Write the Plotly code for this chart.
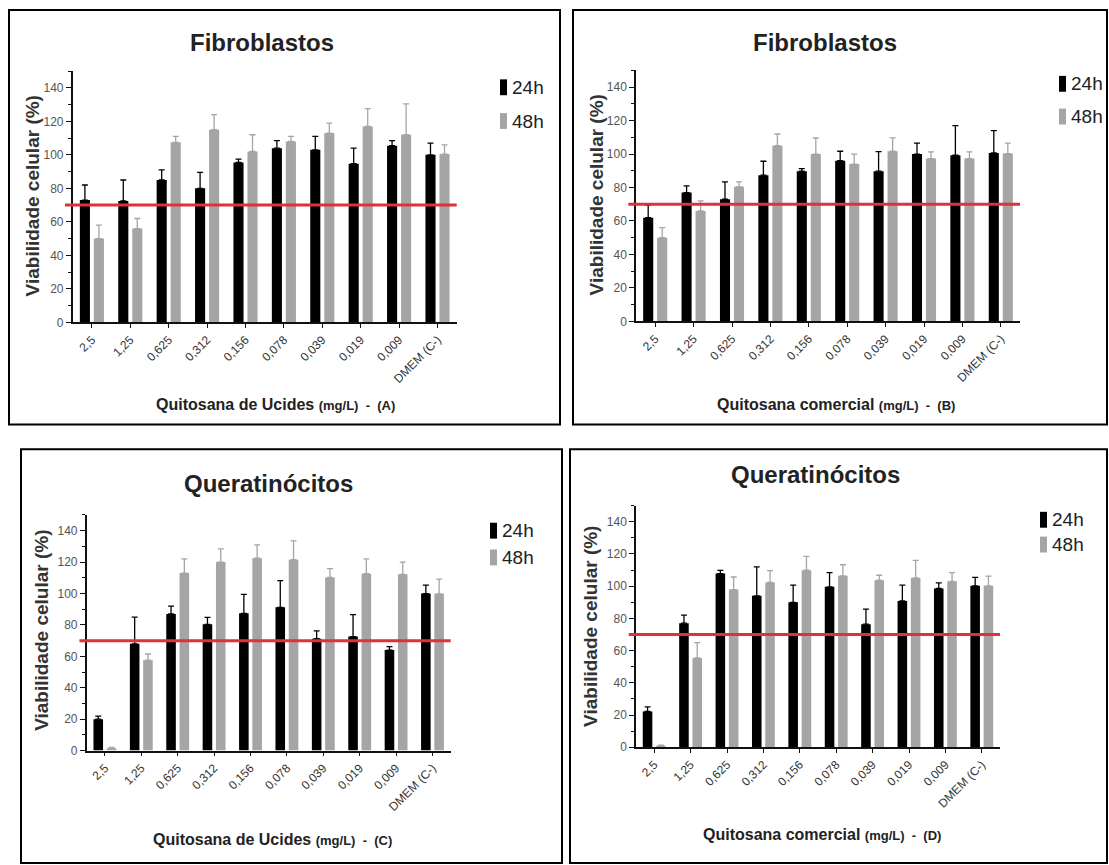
import plotly.graph_objects as go

W, H = 1109, 865

# Concentrations (mg/L) on the x axis
categories = ["2,5", "1,25", "0,625", "0,312", "0,156", "0,078", "0,039", "0,019", "0,009", "DMEM (C-)"]

# (A) Fibroblastos - Quitosana de Ucides
a_24h = [73, 72.5, 85, 80, 95.5, 104, 103, 94.7, 105.5, 100]
a_24h_err = [9, 12.5, 6, 9.5, 2, 4.5, 8, 9.3, 3, 7]
a_48h = [50, 56, 107.5, 115, 102, 108, 113, 117, 112, 100.5]
a_48h_err = [8, 6, 3.5, 9, 10, 3, 6, 10.6, 18.5, 5.5]

# (B) Fibroblastos - Quitosana comercial
b_24h = [62, 77, 73, 87.4, 89.8, 96, 89.8, 100, 99.3, 100.7]
b_24h_err = [7.5, 4, 10.4, 8.3, 1.5, 5.7, 11.7, 6.6, 17.7, 13.3]
b_48h = [50, 66, 80.4, 105, 100, 94, 101.7, 97.3, 97.3, 100.3]
b_48h_err = [6, 6, 3, 7, 9.6, 6, 8, 4, 4, 6.3]

# (C) Queratinócitos - Quitosana de Ucides
c_24h = [20, 68, 87, 80.4, 87.4, 91.2, 71.2, 72.6, 64, 100]
c_24h_err = [2, 17, 5, 4.4, 12, 17, 5, 14, 2.2, 5.3]
c_48h = [1.5, 57.5, 113, 120, 122.5, 121.5, 110.2, 112.6, 112.2, 99.8]
c_48h_err = [0.5, 4, 9, 8.4, 8.5, 12, 5.6, 9.4, 7.8, 9.4]

# (D) Queratinócitos - Quitosana comercial
d_24h = [22.2, 77, 107.8, 94, 90, 99.6, 76.4, 90.8, 98.6, 100.2]
d_24h_err = [2.8, 5, 2, 18, 10.6, 8.8, 9.4, 9.8, 3.4, 5.3]
d_48h = [0.8, 55.4, 97.9, 102.3, 109.9, 106.4, 103.7, 105.1, 103, 100.2]
d_48h_err = [0.5, 9.6, 7.8, 7.4, 8.6, 6.9, 3.1, 10.9, 5.4, 6]

viability_limit = 70
series_names = ["24h", "48h"]
y_ticks = [0, 20, 40, 60, 80, 100, 120, 140]

BLACK = "#000000"
GRAY = "#a5a5a5"
RED = "#e0313b"
FONT = "Arial, Liberation Sans, sans-serif"


def fx(px):
    return px / W


def fy(py):
    return 1 - py / H


panels = [
    dict(data=(a_24h, a_24h_err, a_48h, a_48h_err), x=(72.7, 456.7), y=(71.7, 325),
         title="Fibroblastos", tpos=(262, 43), ylab=(32, 198),
         xt="Quitosana de Ucides", tag="(A)", xtpos=(275, 408),
         frame=(9, 10, 560, 428), leg=(500, 88, 122)),
    dict(data=(b_24h, b_24h_err, b_48h, b_48h_err), x=(636, 1020), y=(71, 324),
         title="Fibroblastos", tpos=(825, 43), ylab=(596, 197),
         xt="Quitosana comercial", tag="(B)", xtpos=(836, 408),
         frame=(573, 10, 1107, 428), leg=(1059, 84.5, 117.5)),
    dict(data=(c_24h, c_24h_err, c_48h, c_48h_err), x=(86.7, 450.7), y=(519.2, 756.7),
         title="Queratinócitos", tpos=(268, 487), ylab=(42, 636),
         xt="Quitosana de Ucides", tag="(C)", xtpos=(272, 846),
         frame=(21, 453, 562, 870), leg=(490, 535, 562)),
    dict(data=(d_24h, d_24h_err, d_48h, d_48h_err), x=(636, 1000), y=(509.8, 753.3),
         title="Queratinócitos", tpos=(815, 478), ylab=(591, 632),
         xt="Quitosana comercial", tag="(D)", xtpos=(822, 841),
         frame=(570, 453, 1107, 870), leg=(1040, 524, 549)),
]

fig = go.Figure()
shapes = []
annotations = []
layout_axes = {}

for i, p in enumerate(panels, start=1):
    xa = "x" if i == 1 else f"x{i}"
    ya = "y" if i == 1 else f"y{i}"
    v24, e24, v48, e48 = p["data"]
    for vals, errs, color, name in ((v24, e24, BLACK, series_names[0]),
                                     (v48, e48, GRAY, series_names[1])):
        fig.add_trace(go.Bar(
            x=categories, y=vals, name=name, xaxis=xa, yaxis=ya,
            marker=dict(color=color, line=dict(width=0)),
            error_y=dict(type="data", symmetric=False, array=errs,
                         arrayminus=[0] * len(errs), color=color,
                         thickness=1.3, width=3),
            showlegend=False,
        ))

    xkey = "xaxis" if i == 1 else f"xaxis{i}"
    ykey = "yaxis" if i == 1 else f"yaxis{i}"
    layout_axes[xkey] = dict(
        domain=[fx(p["x"][0]), fx(p["x"][1])], anchor=ya,
        type="category", categoryorder="array", categoryarray=categories,
        range=[-0.5, len(categories) - 0.5],
        showline=True, linecolor="#111", linewidth=1.5,
        ticks="outside", ticklen=4, tickwidth=1, tickcolor="#111",
        tickangle=-45, tickfont=dict(family=FONT, size=12, color="#333"),
        showgrid=False, zeroline=False, fixedrange=True,
    )
    layout_axes[ykey] = dict(
        domain=[fy(p["y"][1]), fy(p["y"][0])], anchor=xa,
        range=[0, 150], tickmode="array", tickvals=y_ticks,
        showline=True, linecolor="#111", linewidth=1.5,
        ticks="outside", ticklen=5, tickwidth=1, tickcolor="#111",
        minor=dict(tickmode="array", tickvals=[10, 30, 50, 70, 90, 110, 130, 150],
                   ticks="outside", ticklen=3, tickcolor="#111"),
        tickfont=dict(family=FONT, size=12, color="#555"),
        showgrid=False, zeroline=False, fixedrange=True,
    )

    # threshold line at 70 % viability
    shapes.append(dict(type="line", xref=f"{xa} domain", yref=ya,
                       x0=-0.02, x1=1.0, y0=viability_limit, y1=viability_limit,
                       line=dict(color=RED, width=3), layer="above"))

    # panel frame
    x0, y0, x1, y1 = p["frame"]
    shapes.append(dict(type="rect", xref="paper", yref="paper",
                       x0=fx(x0), x1=fx(x1), y0=fy(y1), y1=fy(y0),
                       line=dict(color="#000", width=2)))

    # panel title
    annotations.append(dict(text=f"<b>{p['title']}</b>", xref="paper", yref="paper",
                            x=fx(p["tpos"][0]), y=fy(p["tpos"][1]),
                            xanchor="center", yanchor="middle", showarrow=False,
                            font=dict(family=FONT, size=24, color="#222")))
    # y axis title
    annotations.append(dict(text="<b>Viabilidade celular (%)</b>", xref="paper", yref="paper",
                            x=fx(p["ylab"][0]), y=fy(p["ylab"][1]), textangle=-90,
                            xanchor="center", yanchor="middle", showarrow=False,
                            font=dict(family=FONT, size=19, color="#333")))
    # x axis title
    annotations.append(dict(
        text=f"<b>{p['xt']}</b> <b><span style='font-size:13px'>(mg/L)  -  {p['tag']}</span></b>",
        xref="paper", yref="paper", x=fx(p["xtpos"][0]), y=fy(p["xtpos"][1]),
        xanchor="center", yanchor="middle", showarrow=False,
        font=dict(family=FONT, size=16, color="#222")))

    # legend: narrow swatches with labels
    lx, ly24, ly48 = p["leg"]
    for ly, color, name in ((ly24, BLACK, series_names[0]), (ly48, GRAY, series_names[1])):
        shapes.append(dict(type="rect", xref="paper", yref="paper",
                           x0=fx(lx), x1=fx(lx + 7), y0=fy(ly + 8), y1=fy(ly - 8),
                           fillcolor=color, line=dict(width=0)))
        annotations.append(dict(text=name, xref="paper", yref="paper",
                                x=fx(lx + 10), y=fy(ly), xanchor="left", yanchor="middle",
                                showarrow=False,
                                font=dict(family=FONT, size=19, color="#222")))

fig.update_layout(
    width=W, height=H,
    margin=dict(l=0, r=0, t=0, b=0),
    paper_bgcolor="white", plot_bgcolor="white",
    barmode="group", bargap=0.27, bargroupgap=0.28,
    showlegend=False,
    shapes=shapes, annotations=annotations,
    **layout_axes,
)

fig.write_html("out.html", config={"displayModeBar": False})
